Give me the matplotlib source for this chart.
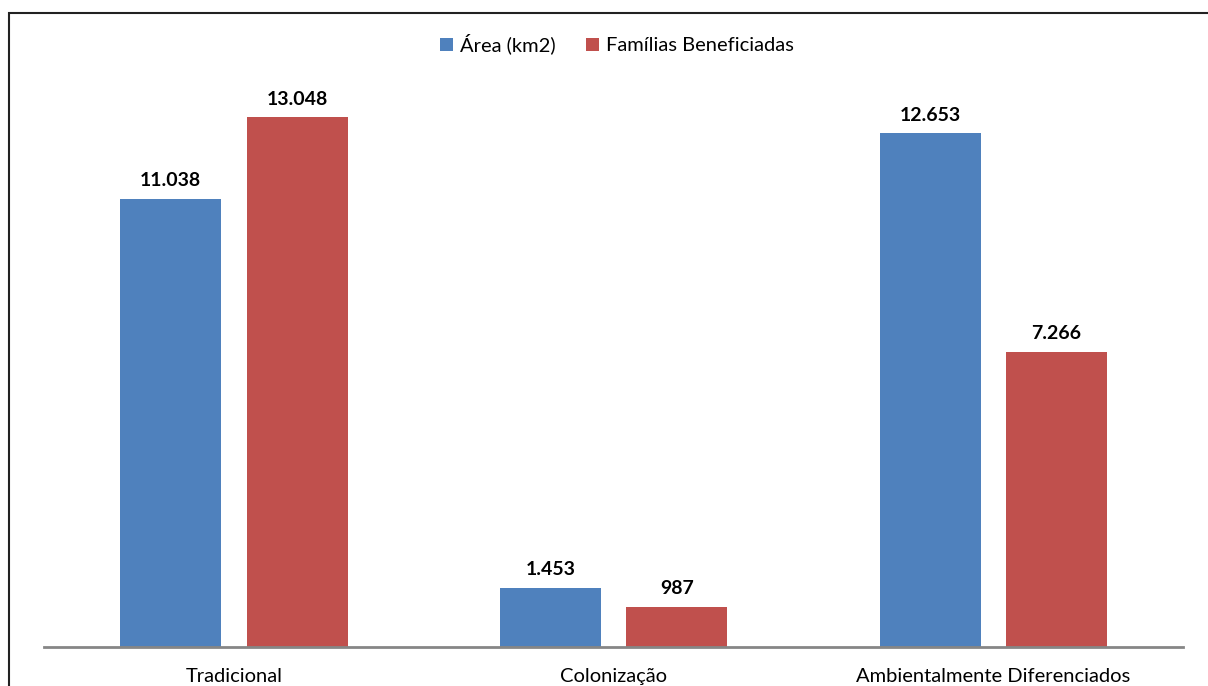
import matplotlib
matplotlib.use('Agg')
import matplotlib.pyplot as plt
import numpy as np
from matplotlib.patches import Rectangle

# dados por tipo de assentamento
categorias = ['Tradicional', 'Colonização', 'Ambientalmente Diferenciados']
area_km2 = [11038, 1453, 12653]
familias = [13048, 987, 7266]

azul = '#4F81BD'
vermelho = '#C0504D'

plt.rcParams['font.family'] = ['Lato', 'DejaVu Sans']

fig = plt.figure(figsize=(12.08, 6.86), dpi=100)
ax = fig.add_axes([44/1208, 39/686, 1139/1208, 567/686])

x = np.arange(len(categorias))
largura = 0.266
b1 = ax.bar(x - 0.166, area_km2, largura, color=azul, label='Área (km2)')
b2 = ax.bar(x + 0.167, familias, largura, color=vermelho, label='Famílias Beneficiadas')

def fmt(v):
    # separador de milhar com ponto
    return f'{v:,}'.replace(',', '.')

for barras in (b1, b2):
    for b in barras:
        ax.annotate(fmt(int(b.get_height())), (b.get_x() + b.get_width() / 2, b.get_height()),
                    xytext=(0, 7), textcoords='offset points', ha='center', va='bottom',
                    fontsize=14, fontweight='bold')

ax.set_xlim(-0.5, 2.5)
ax.set_ylim(0, 567 / 40.6 * 1000)
ax.set_xticks(x)
ax.set_xticklabels(categorias, fontsize=14.5)
ax.tick_params(axis='x', length=0, pad=15)
ax.set_yticks([])
for s in ['top', 'right', 'left']:
    ax.spines[s].set_visible(False)
ax.spines['bottom'].set_color('#868686')
ax.spines['bottom'].set_linewidth(2)

ax.legend(loc='center', bbox_to_anchor=(617/1208, 1 - 44/686), bbox_transform=fig.transFigure,
          ncol=2, frameon=False, fontsize=14.5, handlelength=0.65, handleheight=0.65,
          handletextpad=0.35, columnspacing=1.5)

# moldura do gráfico
fig.patches.append(Rectangle((9/1208, -0.1), 1.1, 1 - 13/686 + 0.1, transform=fig.transFigure,
                             fill=False, edgecolor='#222222', linewidth=1.5))

fig.savefig('out.png', dpi=100)
